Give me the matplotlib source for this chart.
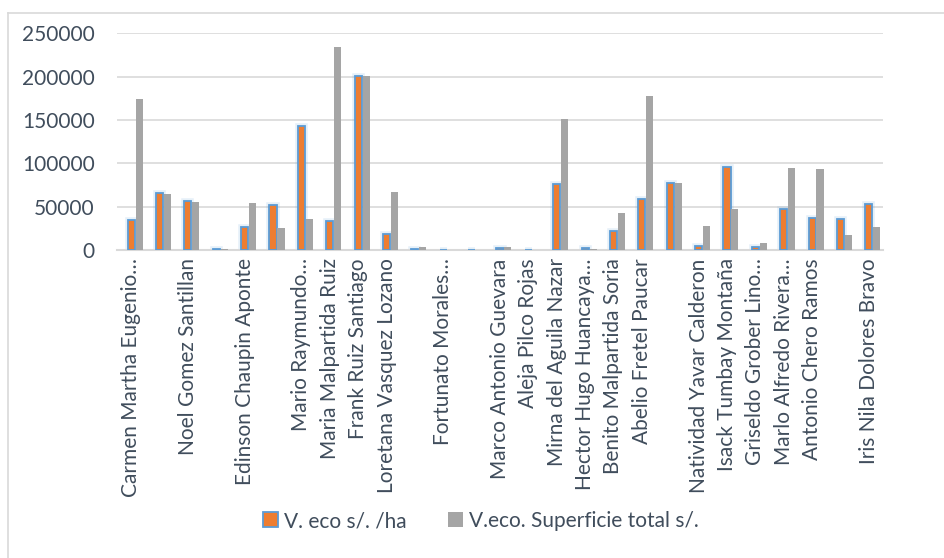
#!/usr/bin/env python3

import matplotlib

matplotlib.use('Agg')
import matplotlib.pyplot as plt
from matplotlib.lines import Line2D
import numpy as np


OUT_FILE = 'out.png'

# Excel hides some category labels when they collide, blanks keep those slots
NAMES = [
    'Carmen Martha Eugenio…', '', 'Noel Gomez Santillan', '',
    'Edinson Chaupin Aponte', '', 'Mario Raymundo…', 'Maria Malpartida Ruiz',
    'Frank Ruiz Santiago', 'Loretana Vasquez Lozano', '', 'Fortunato Morales…',
    '', 'Marco Antonio Guevara', 'Aleja Pilco Rojas', 'Mirna del Aguila Nazar',
    'Hector Hugo Huancaya…', 'Benito Malpartida Soria', 'Abelio Fretel Paucar', '',
    'Natividad Yavar Calderon', 'Isack Tumbay Montaña', 'Griseldo Grober Lino…',
    'Marlo Alfredo Rivera…', 'Antonio Chero Ramos', '', 'Iris Nila Dolores Bravo',
]

V_ECO_HA = [
    34600, 65400, 56200, 600, 26900, 51500, 143500, 33500, 201200, 18800,
    1000, 500, 500, 1900, 500, 75800, 2700, 21900, 58800, 77700,
    5000, 95800, 3800, 47300, 37300, 35400, 52700,
]
V_ECO_TOTAL = [
    174200, 64600, 55400, 600, 54600, 25400, 35800, 234200, 200800, 66900,
    3500, 200, 200, 3500, 200, 151100, 1200, 42700, 177700, 77300,
    27700, 47300, 8100, 94600, 93500, 17300, 26500,
]

SERIES_LABELS = ['V. eco s/. /ha', 'V.eco. Superficie total s/.']
Y_TICKS = [0, 50000, 100000, 150000, 200000, 250000]

TEXT_COLOR = '#404D5C'
GRID_COLOR = '#D9D9D9'
ORANGE = '#ED7D31'
EDGE_BLUE = '#5B9BD5'
GRAY = '#A5A5A5'

W, H = 945, 558


def main():
    plt.rcParams['font.family'] = ['Lato', 'DejaVu Sans']

    fig = plt.figure(figsize=(W / 100, H / 100), dpi=100)
    ax = fig.add_axes([117 / W, 1 - 250 / H, 766 / W, (250 - 33.3) / H])

    x = np.arange(len(NAMES))
    bar_w = 0.25

    # soft glow behind the highlighted orange series
    ax.bar(x, V_ECO_HA, width=bar_w, color='none', edgecolor=EDGE_BLUE,
           linewidth=4, alpha=0.15, zorder=2)
    ax.bar(x, V_ECO_HA, width=bar_w, color=ORANGE, edgecolor=EDGE_BLUE,
           linewidth=1.3, label=SERIES_LABELS[0], zorder=3)
    ax.bar(x + 0.28, V_ECO_TOTAL, width=bar_w, color=GRAY, edgecolor='none',
           label=SERIES_LABELS[1], zorder=3)

    ax.set_xlim(-0.5, len(NAMES) - 0.5)
    ax.set_ylim(0, 250000)
    ax.set_yticks(Y_TICKS)
    ax.set_yticklabels([str(v) for v in Y_TICKS])
    ax.set_xticks(x)
    ax.set_xticklabels(NAMES, rotation=90, va='top', ha='center')

    ax.grid(axis='y', color=GRID_COLOR, linewidth=1.2, zorder=0)
    ax.set_axisbelow(True)
    for side in ('top', 'right', 'left'):
        ax.spines[side].set_visible(False)
    ax.spines['bottom'].set_color(GRID_COLOR)
    ax.spines['bottom'].set_linewidth(1.5)

    ax.tick_params(axis='both', length=0, colors=TEXT_COLOR, labelsize=15)
    ax.tick_params(axis='y', pad=16)
    ax.tick_params(axis='x', pad=6)

    fig.legend(loc='center', bbox_to_anchor=(481 / W, 1 - 521 / H), ncol=2,
               frameon=False, fontsize=15, labelcolor=TEXT_COLOR,
               handlelength=0.7, handleheight=0.7, handletextpad=0.3,
               columnspacing=2.0)

    # chart frame, only the top and left edges fall inside the picture
    fig.add_artist(Line2D([8 / W, 8 / W], [0, 1 - 13 / H], color=GRID_COLOR,
                          linewidth=1.2, transform=fig.transFigure))
    fig.add_artist(Line2D([8 / W, 1], [1 - 13 / H, 1 - 13 / H], color=GRID_COLOR,
                          linewidth=1.2, transform=fig.transFigure))

    fig.savefig(OUT_FILE, dpi=100)
    plt.close(fig)


if __name__ == '__main__':
    main()
